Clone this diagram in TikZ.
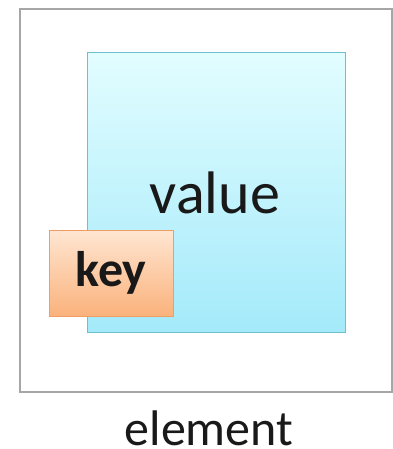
\documentclass[tikz,border=0pt]{standalone}
\usepackage{fontspec}
\setmainfont{Carlito}
\usetikzlibrary{shadows}
\definecolor{valtop}{HTML}{E2FDFF}
\definecolor{valbot}{HTML}{A4EAFA}
\definecolor{valedge}{HTML}{6FBFCF}
\definecolor{keytop}{HTML}{FFE6D2}
\definecolor{keybot}{HTML}{FAB27C}
\definecolor{keyedge}{HTML}{EE9E62}
\definecolor{frame}{HTML}{A6A6A6}
\tikzset{
  box/.style={draw, line width=1pt, inner sep=0pt, outer sep=0pt,
    drop shadow={shadow xshift=1.2pt, shadow yshift=-1.2pt, opacity=0.25}},
  valuebox/.style={box, draw=valedge, top color=valtop, bottom color=valbot},
  keybox/.style={box, draw=keyedge, top color=keytop, bottom color=keybot},
  label text/.style={inner sep=0pt, text=black!90},
}
\begin{document}
\begin{tikzpicture}[x=1pt, y=-1pt]
  \useasboundingbox (0,0) rectangle (392,449);
  % outer element frame
  \draw[frame, line width=2.5pt] (20,9) rectangle (392,392);
  % value box
  \node[valuebox, minimum width=258pt, minimum height=279pt, anchor=north west] (value) at (87,53) {};
  \node[label text, font=\fontsize{60}{62}\selectfont, anchor=base] (vlabel) at (215,213) {value};
  % key box overlapping the value box
  \node[keybox, minimum width=124pt, minimum height=86pt, anchor=north west] (key) at (49,230) {};
  \node[label text, font=\fontsize{50}{52}\selectfont\bfseries] (klabel) at (key.center) {key};
  % caption
  \node[label text, font=\fontsize{50}{52}\selectfont, anchor=base] (element) at (209,445) {element};
\end{tikzpicture}
\end{document}
